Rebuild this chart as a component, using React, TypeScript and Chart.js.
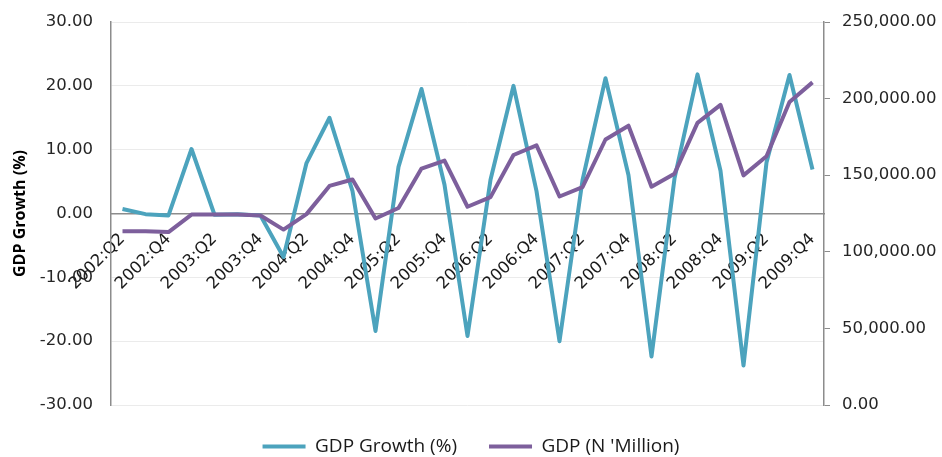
import React, { useEffect, useRef } from 'react';
import { Chart, registerables } from 'chart.js';

Chart.register(...registerables);

const quarters = [
  '2002:Q2', '2002:Q3', '2002:Q4',
  '2003:Q1', '2003:Q2', '2003:Q3', '2003:Q4',
  '2004:Q1', '2004:Q2', '2004:Q3', '2004:Q4',
  '2005:Q1', '2005:Q2', '2005:Q3', '2005:Q4',
  '2006:Q1', '2006:Q2', '2006:Q3', '2006:Q4',
  '2007:Q1', '2007:Q2', '2007:Q3', '2007:Q4',
  '2008:Q1', '2008:Q2', '2008:Q3', '2008:Q4',
  '2009:Q1', '2009:Q2', '2009:Q3', '2009:Q4',
];

const gdpGrowth = [
  0.7, -0.1, -0.3,
  10.1, -0.2, -0.1, -0.3,
  -6.8, 7.9, 15.0, 3.5,
  -18.4, 7.3, 19.5, 4.5,
  -19.2, 5.3, 20.0, 3.5,
  -20.0, 5.2, 21.2, 6.0,
  -22.4, 5.5, 21.8, 6.7,
  -23.8, 8.0, 21.7, 6.9,
];

const gdpMillion = [
  113400, 113400, 112900,
  124300, 124400, 124300, 123700,
  114500, 124600, 143000, 147200,
  121700, 128600, 154300, 159500,
  129400, 135700, 163200, 169500,
  136100, 142200, 173300, 182300,
  142500, 151000, 184200, 195900,
  149900, 162400, 197800, 210600,
];

const TEAL = '#4ca3bd';
const PURPLE = '#7d5f9c';
const AXIS_GREY = '#8c8c8c';
const TICK_FONT = { family: 'DejaVu Sans', size: 16.5 };

export default function App() {
  const ref = useRef<HTMLCanvasElement>(null);

  useEffect(() => {
    const chart = new Chart(ref.current as HTMLCanvasElement, {
      type: 'line',
      data: {
        labels: quarters,
        datasets: [
          {
            label: 'GDP Growth (%)',
            data: gdpGrowth,
            borderColor: TEAL,
            backgroundColor: TEAL,
            borderWidth: 4,
            borderJoinStyle: 'round',
            pointRadius: 0,
            tension: 0,
            yAxisID: 'y',
            order: 1,
          },
          {
            label: "GDP (N 'Million)",
            data: gdpMillion,
            borderColor: PURPLE,
            backgroundColor: PURPLE,
            borderWidth: 4,
            borderJoinStyle: 'round',
            pointRadius: 0,
            tension: 0,
            yAxisID: 'y1',
            order: 0,
          },
        ],
      },
      options: {
        responsive: false,
        animation: false,
        layout: { padding: { top: 22, bottom: -9, left: 0, right: 0 } },
        plugins: {
          tooltip: { enabled: false },
          legend: {
            position: 'bottom',
            labels: {
              usePointStyle: true,
              pointStyle: 'line',
              pointStyleWidth: 43,
              padding: 32,
              color: '#1a1a1a',
              font: { family: 'Open Sans', size: 19 },
              sort: (a: any, b: any) => a.datasetIndex - b.datasetIndex,
            },
          },
        },
        scales: {
          x: {
            type: 'category',
            position: { y: 0 } as any,
            offset: true,
            grid: { display: false, drawTicks: false },
            border: { display: true, color: AXIS_GREY, width: 1.5 },
            ticks: {
              autoSkip: false,
              maxRotation: 45,
              minRotation: 45,
              padding: 16,
              color: '#1a1a1a',
              font: TICK_FONT,
              callback: function (this: any, v: any, i: number) {
                return i % 2 === 0 ? this.getLabelForValue(v) : '';
              },
            },
          },
          y: {
            position: 'left',
            min: -30,
            max: 30,
            grid: { color: '#ebebeb', drawTicks: true, tickLength: 18, tickColor: 'rgba(0,0,0,0)' },
            border: { display: true, color: AXIS_GREY, width: 1.5 },
            ticks: {
              stepSize: 10,
              padding: 0,
              color: '#262626',
              font: TICK_FONT,
              callback: (v: any) => Number(v).toFixed(2),
            },
            title: {
              display: true,
              text: 'GDP Growth (%)',
              color: '#000',
              font: { family: 'Open Sans', size: 16, weight: 'bold' },
              padding: { top: 11, bottom: 0 },
            },
            afterFit: (s: any) => {
              s.width = 111;
            },
          },
          y1: {
            position: 'right',
            min: 0,
            max: 250000,
            grid: { drawOnChartArea: false, drawTicks: true, tickLength: 6, color: AXIS_GREY },
            border: { display: true, color: AXIS_GREY, width: 1.5 },
            ticks: {
              stepSize: 50000,
              padding: 12,
              color: '#262626',
              font: TICK_FONT,
              callback: (v: any) =>
                Number(v).toLocaleString('en-US', { minimumFractionDigits: 2, maximumFractionDigits: 2 }),
            },
            afterFit: (s: any) => {
              s.width = 118;
            },
          },
        },
      },
    } as any);
    return () => chart.destroy();
  }, []);

  return (
    <canvas
      ref={ref}
      width={942}
      height={457}
      style={{ position: 'absolute', left: 0, top: 0, display: 'block' }}
    />
  );
}
